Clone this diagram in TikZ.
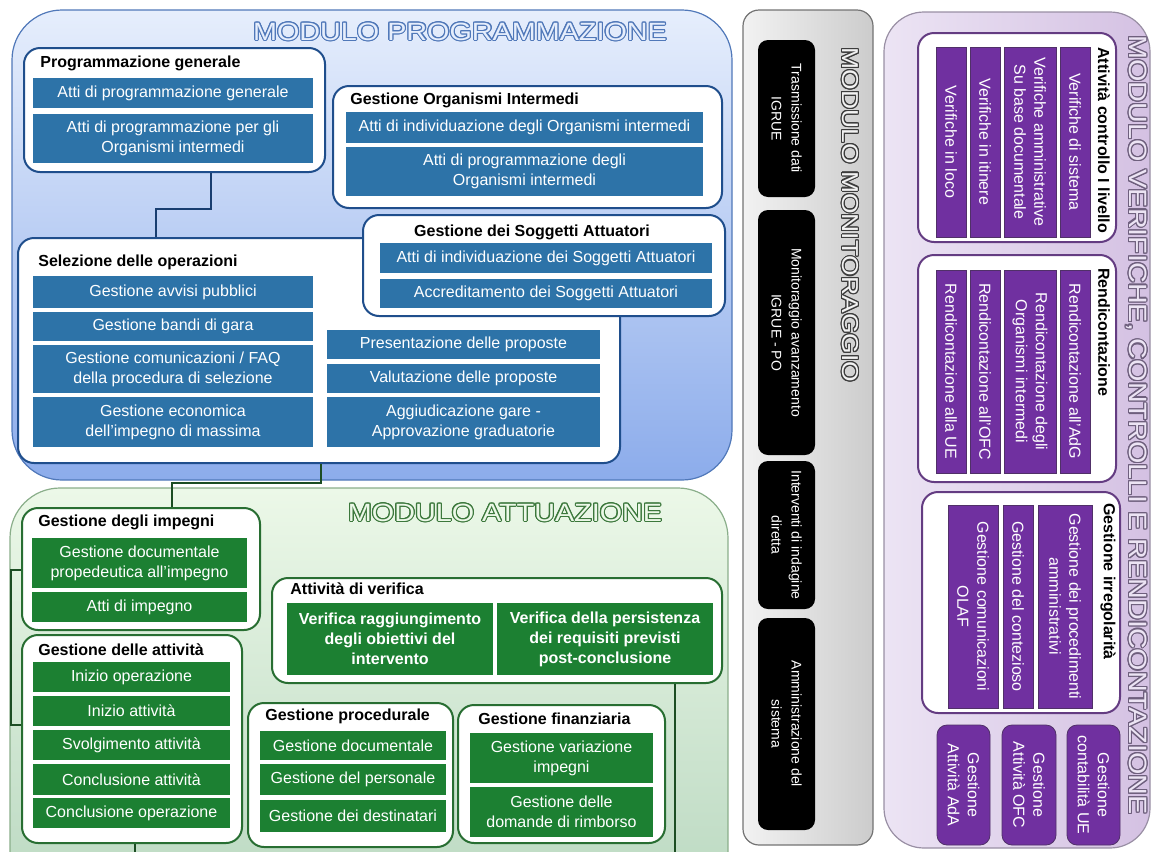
\documentclass[tikz,border=0pt]{standalone}
\usepackage{fontspec}
\setmainfont{Liberation Sans}
\usepackage{contour}
\contourlength{0.5pt}
\usetikzlibrary{fit}

\definecolor{bitemc}{RGB}{45,115,168}
\definecolor{bgrpc}{RGB}{31,78,140}
\definecolor{bline}{RGB}{80,120,185}
\definecolor{bpale}{RGB}{230,238,252}
\definecolor{bdeep}{RGB}{140,172,235}
\definecolor{gitemc}{RGB}{28,128,50}
\definecolor{ggrpc}{RGB}{40,110,50}
\definecolor{gline}{RGB}{60,120,60}
\definecolor{gpale}{RGB}{236,248,232}
\definecolor{mline}{RGB}{60,60,60}
\definecolor{mpale}{RGB}{242,242,242}
\definecolor{pitemc}{RGB}{112,48,160}
\definecolor{pgrpc}{RGB}{100,60,130}
\definecolor{pline}{RGB}{110,95,125}
\definecolor{ppale}{RGB}{236,228,244}

% outlined module titles
\newcommand\modtitle[3]{\scalebox{1.15}[1]{\contour{#1}{\textcolor{#2}{#3}}}}
% a box given by its two corners (in pixels of the picture)
\newcommand\itm[7]{\node[#1,minimum width={(#5-#3)*0.5pt},minimum height={(#6-#4)*0.5pt}]
  (#2) at ({(#3+#5)/2},{(#4+#6)/2}) {#7};}

\begin{document}
\begin{tikzpicture}[x=0.5pt,y=-0.5pt,
  font=\fontsize{8}{10}\selectfont,
  mtitle/.style={inner sep=0pt,font=\fontsize{12.5}{14}\selectfont},
  head/.style={anchor=west,inner sep=0pt,font=\fontsize{8}{10}\selectfont\bfseries},
  bgrp/.style={draw=bgrpc,fill=white,line width=1pt,rounded corners=8pt,inner sep=0pt},
  ggrp/.style={draw=ggrpc,fill=white,line width=1pt,rounded corners=8pt,inner sep=0pt},
  pgrp/.style={draw=pgrpc,fill=white,line width=1pt,rounded corners=8pt,inner sep=0pt},
  bitem/.style={fill=bitemc,text=white,align=center,inner sep=0pt},
  gitem/.style={fill=gitemc,text=white,align=center,inner sep=0pt},
  pitem/.style={fill=pitemc,draw=pgrpc!80!black,line width=0.4pt,text=white,
    align=center,inner sep=0pt,rotate=-90},
  mitem/.style={fill=black,text=white,align=center,inner sep=0pt,rotate=-90,
    rounded corners=5pt,minimum height=28.5pt,font=\fontsize{7}{10}\selectfont},
  bconn/.style={draw=bgrpc!80!black,line width=1pt},
  gconn/.style={draw=ggrpc!70!black,line width=1pt}]
  \useasboundingbox (0,0) rectangle (1158,852);
  \clip (0,0) rectangle (1158,852);

  % Modulo programmazione.
  \node[fit={(12,10) (732,480)},inner sep=0pt,draw=bline,line width=0.6pt,
    rounded corners=25pt,top color=bpale,bottom color=bdeep] (progmod) {};
  \node[mtitle] (progtitle) at (460,32) {\modtitle{bline}{bpale}{MODULO PROGRAMMAZIONE}};

  \node[bgrp,fit={(24,48) (325,172)}] (proggen) {};
  \node[head] (proggenh) at (40,63) {Programmazione generale};
  \itm{bitem}{pg1}{33}{78}{313}{108}{Atti di programmazione generale}
  \itm{bitem}{pg2}{33}{114}{313}{163}{Atti di programmazione per gli\\Organismi intermedi}

  \node[bgrp,fit={(333,86) (722,208)}] (orgint) {};
  \node[head] (orginth) at (350,100) {Gestione Organismi Intermedi};
  \itm{bitem}{oi1}{346}{112}{703}{143}{Atti di individuazione degli Organismi intermedi}
  \itm{bitem}{oi2}{346}{147}{703}{196}{Atti di programmazione degli\\Organismi intermedi}

  \node[bgrp,fit={(18,238) (620,463)}] (selez) {};
  \node[head] (selezh) at (38,262) {Selezione delle operazioni};
  \itm{bitem}{so1}{33}{276}{313}{308}{Gestione avvisi pubblici}
  \itm{bitem}{so2}{33}{312}{313}{341}{Gestione bandi di gara}
  \itm{bitem}{so3}{33}{345}{313}{393}{Gestione comunicazioni / FAQ\\della procedura di selezione}
  \itm{bitem}{so4}{33}{397}{313}{447}{Gestione economica\\dell'impegno di massima}
  \itm{bitem}{so5}{327}{330}{600}{359}{Presentazione delle proposte}
  \itm{bitem}{so6}{327}{364}{600}{393}{Valutazione delle proposte}
  \itm{bitem}{so7}{327}{397}{600}{447}{Aggiudicazione gare -\\Approvazione graduatorie}

  \node[bgrp,fit={(363,215) (725,316)}] (sogg) {};
  \node[head,anchor=center] (soggh) at (532,232) {Gestione dei Soggetti Attuatori};
  \itm{bitem}{sa1}{380}{243}{712}{273}{Atti di individuazione dei Soggetti Attuatori}
  \itm{bitem}{sa2}{380}{279}{712}{308}{Accreditamento dei Soggetti Attuatori}

  \coordinate (pgx) at (211,0);
  \coordinate (slx) at (156,0);
  \draw[bconn] (proggen.south -| pgx) -- ++(0,36) -| (selez.north -| slx);

  % Modulo attuazione.
  \node[fit={(10,488) (728,900)},inner sep=0pt,draw=gline!60,line width=0.6pt,
    rounded corners=25pt,top color=gpale,bottom color=gitemc!30] (attmod) {};
  \node[mtitle] (atttitle) at (505,513) {\modtitle{gline}{gpale}{MODULO ATTUAZIONE}};

  \node[ggrp,fit={(22,508) (260,630)}] (impegni) {};
  \node[head] (impegnih) at (38,522) {Gestione degli impegni};
  \itm{gitem}{im1}{32}{538}{247}{588}{Gestione documentale\\propedeutica all'impegno}
  \itm{gitem}{im2}{32}{592}{247}{622}{Atti di impegno}

  \node[ggrp,fit={(22,635) (242,843)}] (attiv) {};
  \node[head] (attivh) at (38,650) {Gestione delle attività};
  \itm{gitem}{at1}{33}{662}{230}{692}{Inizio operazione}
  \itm{gitem}{at2}{33}{696}{230}{726}{Inizio attività}
  \itm{gitem}{at3}{33}{730}{230}{760}{Svolgimento attività}
  \itm{gitem}{at4}{33}{764}{230}{795}{Conclusione attività}
  \itm{gitem}{at5}{33}{798}{230}{828}{Conclusione operazione}

  \node[ggrp,fit={(272,578) (722,683)}] (verif) {};
  \node[head] (verifh) at (290,589) {Attività di verifica};
  \itm{gitem,font=\fontsize{8}{10}\selectfont\bfseries}{ve1}{287}{603}{493}{675}
    {Verifica raggiungimento\\degli obiettivi del\\intervento}
  \itm{gitem,font=\fontsize{8}{10}\selectfont\bfseries}{ve2}{497}{603}{713}{675}
    {Verifica della persistenza\\dei requisiti previsti\\post-conclusione}

  \node[ggrp,fit={(248,703) (453,847)}] (proced) {};
  \node[head] (procedh) at (265,716) {Gestione procedurale};
  \itm{gitem}{pr1}{260}{731}{446}{760}{Gestione documentale}
  \itm{gitem}{pr2}{260}{764}{446}{795}{Gestione del personale}
  \itm{gitem}{pr3}{260}{800}{446}{832}{Gestione dei destinatari}

  \node[ggrp,fit={(458,705) (665,843)}] (finanz) {};
  \node[head] (finanzh) at (478,719) {Gestione finanziaria};
  \itm{gitem}{fi1}{470}{733}{653}{783}{Gestione variazione\\impegni}
  \itm{gitem}{fi2}{470}{787}{653}{837}{Gestione delle\\domande di rimborso}

  \coordinate (sex) at (321,0);
  \coordinate (imx) at (172,0);
  \draw[gconn] (selez.south -| sex) -- ++(0,19) -| (impegni.north -| imx);
  \coordinate (brk1) at (0,570);
  \coordinate (brk2) at (0,725);
  \draw[gconn] (impegni.west |- brk1) -- ++(-10,0) |- (attiv.west |- brk2);
  \coordinate (attx) at (135,870);
  \draw[gconn] (attiv.south -| attx) -- (attx);
  \coordinate (verx) at (675,870);
  \draw[gconn] (verif.south -| verx) -- (verx);

  % Modulo monitoraggio.
  \node[fit={(743,10) (873,845)},inner sep=0pt,draw=black!55,line width=0.6pt,
    rounded corners=8pt,left color=black!5,right color=black!20] (monmod) {};
  \node[mtitle,rotate=-90,font=\fontsize{11.5}{13}\selectfont] (montitle) at (850,215)
    {\modtitle{mline}{mpale}{MODULO MONITORAGGIO}};
  \node[mitem,minimum width=78.5pt] (mo1) at (786.5,118.5) {Trasmissione dati\\IGRUE};
  \node[mitem,minimum width=122.5pt] (mo2) at (786.5,332.5) {Monitoraggio avanzamento\\IGRUE - PO};
  \node[mitem,minimum width=74pt] (mo3) at (786.5,535) {Interventi di indagine\\diretta};
  \node[mitem,minimum width=106pt] (mo4) at (786.5,724) {Amministrazione del\\sistema};

  % Modulo verifiche, controlli e rendicontazione.
  \node[fit={(884,12) (1150,848)},inner sep=0pt,draw=pline!70,line width=0.6pt,
    rounded corners=20pt,left color=ppale,right color=pitemc!30] (vermod) {};
  \node[mtitle,rotate=-90] (vertitle) at (1136,425)
    {\modtitle{pline}{ppale}{MODULO VERIFICHE, CONTROLLI E RENDICONTAZIONE}};

  \node[pgrp,fit={(918,33) (1116,242)}] (ctrl) {};
  \node[head,rotate=-90] (ctrlh) at (1104,47) {Attività controllo I livello};
  \node[pitem,minimum width=95pt,minimum height=15pt] (ct1) at (1075,142) {Verifiche di sistema};
  \node[pitem,minimum width=95pt,minimum height=26pt] (ct2) at (1030,142) {Verifiche amministrative\\Su base documentale};
  \node[pitem,minimum width=95pt,minimum height=15pt] (ct3) at (985,142) {Verifiche in itinere};
  \node[pitem,minimum width=95pt,minimum height=15pt] (ct4) at (951,142) {Verifiche in loco};

  \node[pgrp,fit={(918,255) (1116,482)}] (rend) {};
  \node[head,rotate=-90] (rendh) at (1104,268) {Rendicontazione};
  \node[pitem,minimum width=101.5pt,minimum height=15pt] (re1) at (1075,371.5) {Rendicontazione all'AdG};
  \node[pitem,minimum width=101.5pt,minimum height=26pt] (re2) at (1030,371.5) {Rendicontazione degli\\Organismi intermedi};
  \node[pitem,minimum width=101.5pt,minimum height=15pt] (re3) at (985,371.5) {Rendicontazione all'OFC};
  \node[pitem,minimum width=101.5pt,minimum height=15pt] (re4) at (951,371.5) {Rendicontazione alla UE};

  \node[pgrp,fit={(922,492) (1120,713)}] (irreg) {};
  \node[head,rotate=-90] (irregh) at (1108,503) {Gestione irregolarità};
  \node[pitem,minimum width=101.5pt,minimum height=27pt] (ir1) at (1065,606.5) {Gestione dei procedimenti\\amministrativi};
  \node[pitem,minimum width=101.5pt,minimum height=15pt] (ir2) at (1018,606.5) {Gestione del contezioso};
  \node[pitem,minimum width=101.5pt,minimum height=25pt] (ir3) at (973,606.5) {Gestione comunicazioni\\OLAF};

  \node[pitem,rounded corners=5pt,minimum width=60pt,minimum height=26.5pt] (ge1) at (1093.5,785) {Gestione\\contabilità UE};
  \node[pitem,rounded corners=5pt,minimum width=60pt,minimum height=27pt] (ge2) at (1029,785) {Gestione\\Attività OFC};
  \node[pitem,rounded corners=5pt,minimum width=60pt,minimum height=26.5pt] (ge3) at (963.5,785) {Gestione\\Attività AdA};
\end{tikzpicture}
\end{document}
